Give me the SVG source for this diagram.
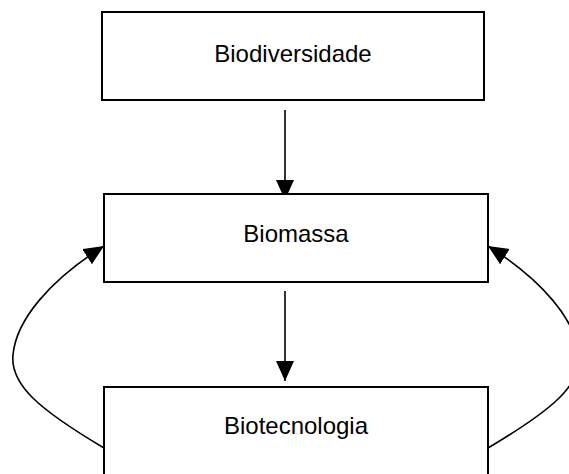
<svg xmlns="http://www.w3.org/2000/svg" width="569" height="474" viewBox="0 0 569 474">
<style>
.box{fill:#fff;stroke:#000;stroke-width:2}
.lbl{font-family:"Liberation Sans",Arial,sans-serif;font-size:24px;fill:#000;text-anchor:middle}
.con{fill:none;stroke:#000;stroke-width:1.6}
</style>
<defs>
<marker id="ah" markerUnits="userSpaceOnUse" markerWidth="22" markerHeight="20" refX="20" refY="9" orient="auto">
<polygon points="0,0 20,9 0,18" fill="#000"/>
</marker>
</defs>
<rect width="569" height="474" fill="#fff"/>
<g id="connectors">
<line class="con" x1="285" y1="110" x2="285" y2="200" marker-end="url(#ah)"/>
<line class="con" x1="285" y1="291" x2="285" y2="381" marker-end="url(#ah)"/>
<path class="con" d="M104,448 C40,410 10,385 13,355 C16,320 50,280 104,246" marker-end="url(#ah)"/>
<path class="con" d="M488,448 C552,410 582,385 579,355 C576,320 542,280 488,246" marker-end="url(#ah)"/>
</g>
<g id="biodiversidade">
<rect class="box" x="102" y="12" width="382" height="88"/>
<text class="lbl" x="293" y="62">Biodiversidade</text>
</g>
<g id="biomassa">
<rect class="box" x="104" y="194" width="384" height="88"/>
<text class="lbl" x="296" y="242">Biomassa</text>
</g>
<g id="biotecnologia">
<rect class="box" x="104" y="387" width="384" height="100"/>
<text class="lbl" x="296" y="434">Biotecnologia</text>
</g>
</svg>
